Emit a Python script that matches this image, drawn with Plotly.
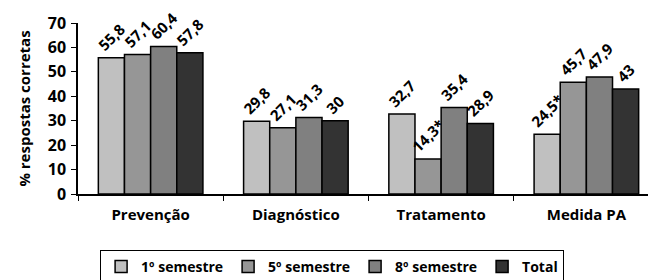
import plotly.graph_objects as go

categories = ["Prevenção", "Diagnóstico", "Tratamento", "Medida PA"]
series_names = ["1º semestre", "5º semestre", "8º semestre", "Total"]
values_1 = [55.8, 29.8, 32.7, 24.5]
values_5 = [57.1, 27.1, 14.3, 45.7]
values_8 = [60.4, 31.3, 35.4, 47.9]
values_total = [57.8, 30.0, 28.9, 43.0]
labels_1 = ["55,8", "29,8", "32,7", "24,5*"]
labels_5 = ["57,1", "27,1", "14,3*", "45,7"]
labels_8 = ["60,4", "31,3", "35,4", "47,9"]
labels_total = ["57,8", "30", "28,9", "43"]
colors = ["#c0c0c0", "#969696", "#808080", "#333333"]

FONT = "Open Sans"
fig = go.Figure()
for name, vals, labs, col in zip(series_names,
                                 [values_1, values_5, values_8, values_total],
                                 [labels_1, labels_5, labels_8, labels_total],
                                 colors):
    fig.add_trace(go.Bar(
        x=categories, y=vals, name=name, text=labs,
        textposition="outside", textangle=-45, constraintext="none",
        cliponaxis=False,
        textfont=dict(family=FONT, size=15, color="black", weight="bold"),
        marker=dict(color=col, line=dict(color="black", width=1.5)),
    ))

fig.update_layout(
    width=656, height=280,
    margin=dict(l=70, r=5, t=15, b=86),
    paper_bgcolor="white", plot_bgcolor="white",
    barmode="group", bargap=0.28, bargroupgap=0,
    font=dict(family=FONT, size=14, color="black"),
    legend=dict(orientation="h", x=0.437, xanchor="center", y=-0.325, yanchor="top",
                bordercolor="black", borderwidth=1.2,
                font=dict(family=FONT, size=14, color="black", weight="bold"),
                itemwidth=30, tracegroupgap=0),
    xaxis=dict(showline=True, linecolor="black", linewidth=1.5,
               ticks="outside", tickson="boundaries", ticklen=5, tickcolor="black",
               ticklabelstandoff=6,
               tickfont=dict(family=FONT, size=15, color="black", weight="bold")),
    yaxis=dict(range=[0, 70], dtick=10, showline=True, linecolor="black", linewidth=1.5,
               ticks="outside", ticklen=5, tickcolor="black", showgrid=False,
               zeroline=False, ticklabelstandoff=2,
               tickfont=dict(family=FONT, size=16, color="black", weight="bold"),
               title=dict(text="% respostas corretas", standoff=14,
                          font=dict(family=FONT, size=15, color="black", weight="bold"))),
)
fig.write_html("out.html")
